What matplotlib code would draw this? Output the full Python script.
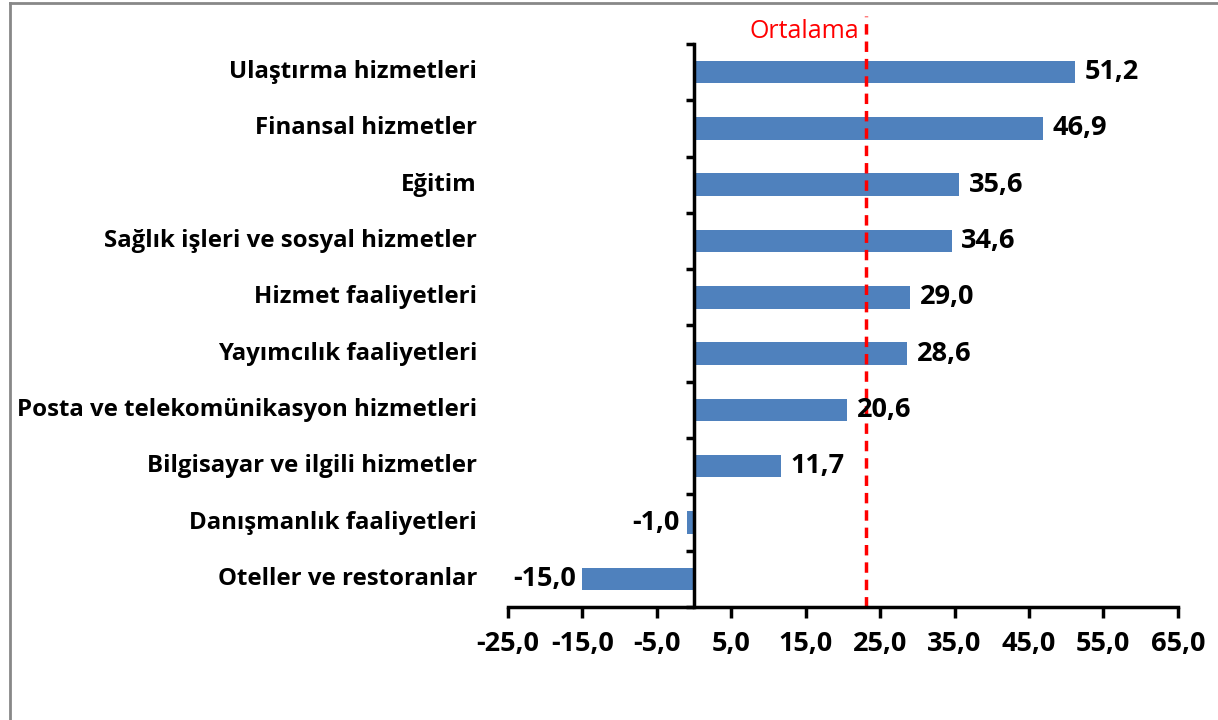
import numpy as np
import matplotlib.pyplot as plt
from matplotlib.lines import Line2D

categories = ["Ulaştırma hizmetleri", "Finansal hizmetler", "Eğitim",
              "Sağlık işleri ve sosyal hizmetler", "Hizmet faaliyetleri",
              "Yayımcılık faaliyetleri", "Posta ve telekomünikasyon hizmetleri",
              "Bilgisayar ve ilgili hizmetler", "Danışmanlık faaliyetleri",
              "Oteller ve restoranlar"]
values = [51.2, 46.9, 35.6, 34.6, 29.0, 28.6, 20.6, 11.7, -1.0, -15.0]
average = 23.1
xticks = [-25, -15, -5, 5, 15, 25, 35, 45, 55, 65]

plt.rcParams['font.family'] = ['Open Sans', 'DejaVu Sans']
FS = 17.3   # category labels
NFS = 19.5  # numbers

fig = plt.figure(figsize=(12.18, 7.2), dpi=100)
ax = fig.add_axes([0.417, 0.157, 0.55, 0.782])

y = np.arange(len(categories))
ax.barh(y, values, height=0.4, color='#4F81BD')
ax.set_xlim(-25, 65)
ax.set_ylim(len(categories) - 0.5, -0.5)

# spines
for s in ['top', 'right']:
    ax.spines[s].set_visible(False)
ax.spines['left'].set_position(('data', 0))
ax.spines['left'].set_linewidth(2.5)
ax.spines['bottom'].set_linewidth(2.5)

ax.set_yticks(np.arange(len(categories) + 1) - 0.5)
ax.set_yticklabels([])
ax.tick_params(axis='y', direction='out', length=6, width=2.5)
ax.set_xticks(xticks)
ax.set_xticklabels(["{:.1f}".format(v).replace('.', ',') for v in xticks],
                   fontsize=NFS, fontweight='bold')
ax.tick_params(axis='x', direction='out', length=8, width=2.5, pad=9)

for yi, name in zip(y, categories):
    ax.text(-0.046, yi, name, transform=ax.get_yaxis_transform(), ha='right',
            va='center', fontsize=FS, fontweight='bold')

for yi, v in zip(y, values):
    lab = "{:.1f}".format(v).replace('.', ',')
    if v >= 0:
        ax.text(v + 1.3, yi, lab, ha='left', va='center', fontsize=NFS, fontweight='bold')
    else:
        ax.text(v - 0.9, yi, lab, ha='right', va='center', fontsize=NFS, fontweight='bold')

# average line
ax.plot([average, average], [len(categories) - 0.5, -1.0], color='#FF0000',
        linestyle=(0, (3, 2)), linewidth=2.5, clip_on=False)
ax.text(average - 0.9, -0.5, "Ortalama", color='#FF0000', ha='right', va='bottom',
        fontsize=18)

# outer frame
fig.add_artist(Line2D([10 / 1218, 10 / 1218], [0, 1 - 3 / 720], color='#888888', linewidth=2))
fig.add_artist(Line2D([10 / 1218, 1], [1 - 3 / 720, 1 - 3 / 720], color='#888888', linewidth=2))

fig.savefig("out.png", dpi=100)
